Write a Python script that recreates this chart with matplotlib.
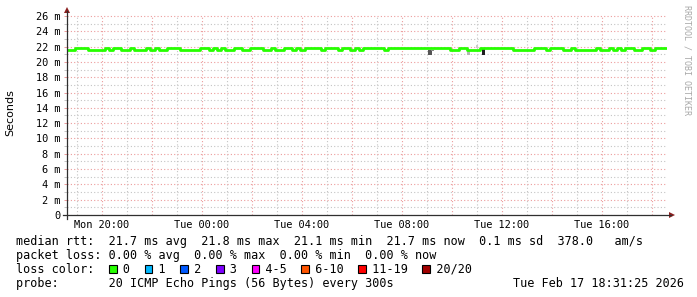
import numpy as np
import matplotlib
matplotlib.use('Agg')
import matplotlib.pyplot as plt
from matplotlib.patches import Polygon, Rectangle
from matplotlib.lines import Line2D
from matplotlib.ticker import MultipleLocator, FuncFormatter

W, H = 697, 297


def px(x, y):
    # pixel position in the picture -> figure fraction
    return x / W, 1 - y / H


# ---- data -------------------------------------------------------------
start_hour = 18.6          # Mon 18:36, hours counted from Mon 00:00
step_hours = 1 / 6         # one median value every 10 minutes

median_ms = [
    21.6, 21.6, 21.8, 21.8, 21.8, 21.6, 21.6, 21.6, 21.6, 21.8, 21.6, 21.8,
    21.8, 21.6, 21.6, 21.8, 21.6, 21.6, 21.6, 21.8, 21.6, 21.8, 21.6, 21.6,
    21.8, 21.8, 21.8, 21.6, 21.6, 21.6, 21.6, 21.6, 21.8, 21.8, 21.6, 21.8,
    21.6, 21.8, 21.6, 21.6, 21.8, 21.8, 21.6, 21.6, 21.8, 21.8, 21.8, 21.6,
    21.6, 21.8, 21.6, 21.6, 21.8, 21.8, 21.6, 21.8, 21.6, 21.8, 21.8, 21.8,
    21.8, 21.6, 21.8, 21.8, 21.8, 21.6, 21.8, 21.8, 21.6, 21.8, 21.6, 21.8,
    21.8, 21.8, 21.8, 21.8, 21.6, 21.8, 21.8, 21.8, 21.8, 21.8, 21.8, 21.8,
    21.8, 21.8, 21.8, 21.8, 21.8, 21.8, 21.8, 21.8, 21.6, 21.6, 21.8, 21.8,
    21.6, 21.6, 21.6, 21.8, 21.8, 21.8, 21.8, 21.8, 21.8, 21.8, 21.8, 21.6,
    21.6, 21.6, 21.6, 21.6, 21.8, 21.8, 21.8, 21.6, 21.8, 21.8, 21.8, 21.6,
    21.6, 21.8, 21.6, 21.6, 21.6, 21.6, 21.6, 21.8, 21.6, 21.6, 21.8, 21.6,
    21.8, 21.6, 21.8, 21.8, 21.6, 21.6, 21.8, 21.8, 21.6, 21.8, 21.8, 21.8,
]

# the few visible smoke spots (spread of the 20 pings)
smoke_start = [33.02, 33.16, 34.62, 34.98, 35.18]
smoke_width = [0.16, 0.12, 0.12, 0.08, 0.16]
smoke_low = [20.95, 21.45, 20.95, 21.8, 20.95]
smoke_high = [21.55, 21.6, 21.55, 22.2, 21.7]
smoke_shade = ['#555555', '#8a8a8a', '#b4b4b4', '#cccccc', '#1e1e1e']

tick_hours = [20, 24, 28, 32, 36, 40]
tick_labels = ['Mon 20:00', 'Tue 00:00', 'Tue 04:00', 'Tue 08:00', 'Tue 12:00', 'Tue 16:00']

rtt_avg, rtt_max, rtt_min, rtt_now, rtt_sd, am_s = 21.7, 21.8, 21.1, 21.7, 0.1, 378.0
loss_avg, loss_max, loss_min, loss_now = 0.0, 0.0, 0.0, 0.0
loss_labels = ['0', '1', '2', '3', '4-5', '6-10', '11-19', '20/20']
loss_colors = ['#26ff00', '#00b8ff', '#0059ff', '#7e00ff', '#ff00ff', '#ff5500', '#ff0000', '#a10000']
probe_text = '20 ICMP Echo Pings (56 Bytes) every 300s'
stamp = 'Tue Feb 17 18:31:25 2026'

# ---- figure -----------------------------------------------------------
plt.rcParams['font.family'] = ['DejaVu Sans Mono']
fig = plt.figure(figsize=(W / 100, H / 100), dpi=100, facecolor='white')

x0, y0 = px(67, 215)
ax = fig.add_axes([x0, y0, 600 / W, 200 / H])
ax.set_facecolor('white')
ax.set_xlim(start_hour, start_hour + 24)
ax.set_ylim(0, 26.13)
for s in ax.spines.values():
    s.set_visible(False)

ax.xaxis.set_major_locator(MultipleLocator(2))
ax.xaxis.set_minor_locator(MultipleLocator(1))
ax.yaxis.set_major_locator(MultipleLocator(2))
ax.yaxis.set_minor_locator(MultipleLocator(1))

lab = dict(zip(tick_hours, tick_labels))
ax.xaxis.set_major_formatter(FuncFormatter(
    lambda v, p: lab.get(int(round(v)), '') if abs(v - round(v)) < 1e-6 else ''))
ax.yaxis.set_major_formatter(FuncFormatter(
    lambda v, p: '0' if abs(v) < 1e-6 else '%d m' % round(v)))

dots = (0, (1, 2))
ax.grid(which='major', color='#ec9c9c', linestyle=dots, linewidth=0.8)
ax.grid(which='minor', color='#c4c4c4', linestyle=dots, linewidth=0.8)
ax.set_axisbelow(True)

ax.tick_params(axis='x', which='both', length=0, pad=3.5, labelsize=7.4)
ax.tick_params(axis='y', which='major', length=2.5, width=0.72, color='#ec9c9c',
               direction='out', pad=2, labelsize=7.4)
ax.tick_params(axis='y', which='minor', length=2.5, width=0.72, color='#c4c4c4',
               direction='out')

# smoke
ax.bar(smoke_start, np.array(smoke_high) - np.array(smoke_low), bottom=smoke_low,
       width=smoke_width, align='edge', color=smoke_shade, linewidth=0, zorder=2)

# median line
t = start_hour + np.arange(len(median_ms) + 1) * step_hours
v = median_ms + [median_ms[-1]]
ax.plot(t, v, drawstyle='steps-post', color='#26ff00', linewidth=2.0,
        solid_capstyle='butt', zorder=3)

# axes with arrows
axis_col = '#2f2f2f'
arrow_col = '#8b1f1f'
fig.add_artist(Line2D(*zip(px(67, 219), px(67, 11)), color=axis_col, lw=0.9))
fig.add_artist(Line2D(*zip(px(63, 215), px(671, 215)), color=axis_col, lw=0.9))
fig.add_artist(Polygon([px(67, 7), px(64, 13), px(70, 13)], closed=True,
                       transform=fig.transFigure, color=arrow_col, lw=0))
fig.add_artist(Polygon([px(675, 215), px(669, 212), px(669, 218)], closed=True,
                       transform=fig.transFigure, color=arrow_col, lw=0))

fig.text(*px(10, 113), 'Seconds', rotation=90, ha='center', va='center',
         fontsize=8, family='DejaVu Sans')
fig.text(*px(687, 5), 'RRDTOOL / TOBI OETIKER', rotation=270, ha='center', va='top',
         fontsize=6, color='#a8a8a8')

# ---- legend rows --------------------------------------------------------
fs = 8.5
cw = 0.60205 * fs * 100 / 72
lx = 16

row1 = ('median rtt:  %.1f ms avg  %.1f ms max  %.1f ms min  %.1f ms now  %.1f ms sd  %.1f   am/s'
        % (rtt_avg, rtt_max, rtt_min, rtt_now, rtt_sd, am_s))
row2 = ('packet loss: %.2f %% avg  %.2f %% max  %.2f %% min  %.2f %% now'
        % (loss_avg, loss_max, loss_min, loss_now))
row3 = 'loss color:  '
box_idx = []
for name in loss_labels:
    box_idx.append(len(row3))
    row3 += '  ' + name + '  '
row4 = 'probe:       ' + probe_text

for i, row in enumerate([row1, row2, row3, row4]):
    fig.text(*px(lx, 245 + 14 * i), row, fontsize=fs, va='baseline', ha='left')
fig.text(*px(513, 287), stamp, fontsize=fs, va='baseline', ha='left')

for idx, col in zip(box_idx, loss_colors):
    bx = lx + idx * cw + 1
    fig.add_artist(Rectangle(px(bx, 272.5), 7.5 / W, 8 / H, transform=fig.transFigure,
                             facecolor=col, edgecolor='black', lw=0.8))

fig.savefig('out.png', dpi=100, facecolor='white')
